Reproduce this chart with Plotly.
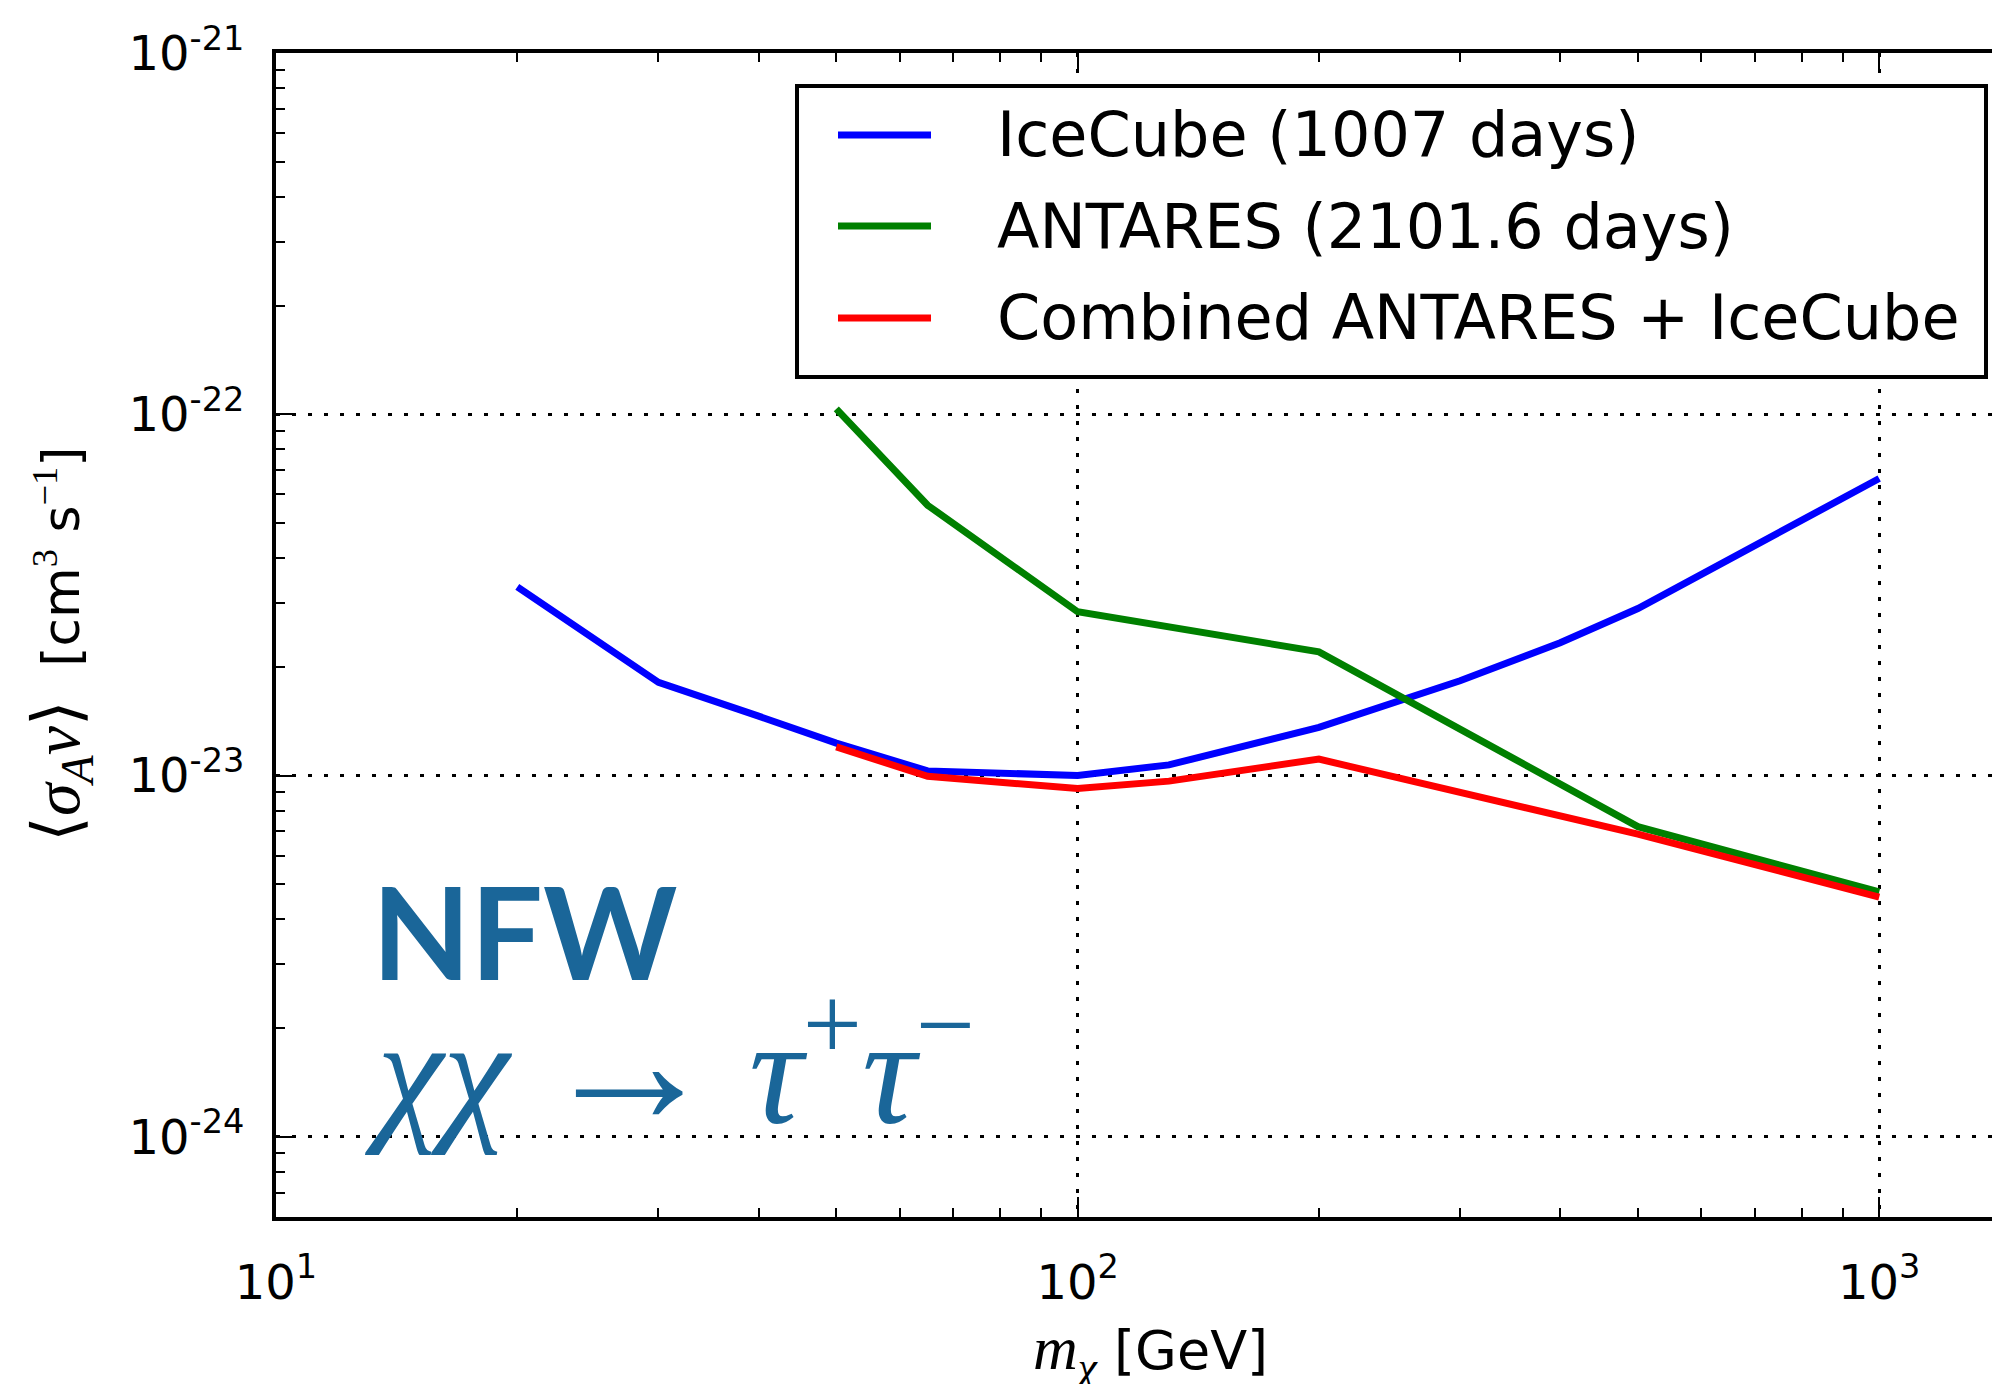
import plotly.graph_objects as go

# ---- data ----
mass_icecube = [20, 30, 40, 50, 65, 100, 130, 200, 300, 400, 500, 1000]
sigma_icecube = [3.33e-23, 1.81e-23, 1.46e-23, 1.23e-23, 1.03e-23, 1.00e-23,
                 1.07e-23, 1.36e-23, 1.83e-23, 2.33e-23, 2.90e-23, 6.64e-23]

mass_antares = [50, 65, 100, 200, 500, 1000]
sigma_antares = [1.035e-22, 5.6e-23, 2.84e-23, 2.20e-23, 7.22e-24, 4.76e-24]

mass_combined = [50, 65, 100, 130, 200, 500, 1000]
sigma_combined = [1.20e-23, 9.95e-24, 9.2e-24, 9.65e-24, 1.11e-23, 6.88e-24, 4.61e-24]

series_names = ["IceCube (1007 days)", "ANTARES (2101.6 days)", "Combined ANTARES + IceCube"]
series_colors = ["#0000ff", "#008000", "#ff0000"]

x_tickvals = [10, 100, 1000]
x_ticktext = ["10<sup>1</sup>", "10<sup>2</sup>", "10<sup>3</sup>"]
y_tickvals = [1e-24, 1e-23, 1e-22, 1e-21]
y_ticktext = ["10<sup>-24</sup>", "10<sup>-23</sup>", "10<sup>-22</sup>", "10<sup>-21</sup>"]

x_minor = [k * 10 ** d for d in (1, 2, 3) for k in range(2, 10)]
y_minor = [k * 10.0 ** d for d in (-25, -24, -23, -22) for k in range(2, 10)]

# ---- layout geometry ----
W, H = 1992, 1384
L, T, B, R = 276, 53, 167, 0
x_decade = 801.6
xr = [1, 1 + (W - L - R) / x_decade]
yr = [-24.222, -21]

MATH = "Liberation Serif"
SANS = "DejaVu Sans"
ANN_COLOR = "#1a6699"

fig = go.Figure()
for xs, ys, nm, col in zip([mass_icecube, mass_antares, mass_combined],
                           [sigma_icecube, sigma_antares, sigma_combined],
                           series_names, series_colors):
    fig.add_trace(go.Scatter(x=xs, y=ys, mode="lines", name=nm,
                             line=dict(color=col, width=7), showlegend=False))

axis_common = dict(
    type="log", ticks="inside", ticklen=20, tickwidth=2, tickcolor="black",
    showline=True, linewidth=4, linecolor="black", zeroline=False,
    showgrid=True, gridcolor="black", gridwidth=2.5, griddash="4px,12px",
    tickfont=dict(family=SANS, size=48, color="black"),
)

fig.update_xaxes(range=xr, tickmode="array", tickvals=x_tickvals, ticktext=x_ticktext,
                 mirror="allticks", ticklabelstandoff=20,
                 minor=dict(tickmode="array", tickvals=x_minor, ticks="inside", ticklen=9,
                            tickwidth=2, tickcolor="black", showgrid=False),
                 **axis_common)
fig.update_yaxes(range=yr, tickmode="array", tickvals=y_tickvals, ticktext=y_ticktext,
                 mirror=False, ticklabelstandoff=18,
                 minor=dict(tickmode="array", tickvals=y_minor, ticks="inside", ticklen=9,
                            tickwidth=2, tickcolor="black", showgrid=False),
                 **axis_common)

pw = W - L - R
ph = H - T - B


def px(xf):
    return (xf - L) / pw


def py(yf):
    return (H - B - yf) / ph


shapes = []
annotations = []

# legend box (manual, to match the reference layout)
shapes.append(dict(type="rect", xref="paper", yref="paper",
                   x0=px(797), x1=px(1986), y0=py(377), y1=py(86),
                   line=dict(color="black", width=4), fillcolor="white", layer="above"))
row_y = [135, 226, 318]
for nm, col, yy in zip(series_names, series_colors, row_y):
    shapes.append(dict(type="line", xref="paper", yref="paper",
                       x0=px(838), x1=px(931), y0=py(yy), y1=py(yy),
                       line=dict(color=col, width=7), layer="above"))
    annotations.append(dict(text=nm, xref="paper", yref="paper", x=px(995), y=py(yy),
                            xanchor="left", yanchor="middle", showarrow=False,
                            font=dict(family=SANS, size=62, color="black")))

# NFW label
annotations.append(dict(text="<b>NFW</b>", xref="paper", yref="paper",
                        x=px(370), y=py(930), xanchor="left", yanchor="middle",
                        showarrow=False, font=dict(family="Lato", size=128, color=ANN_COLOR)))
# channel label
annotations.append(dict(
    text=("<i>χχ</i>\u2009<span style='font-size:180px'>→</span>\u2009"
          "<i>τ</i><sup>+</sup><i>τ</i><sup>−</sup>"),
    xref="paper", yref="paper",
    x=px(362), y=py(1062), xanchor="left", yanchor="middle",
    showarrow=False, font=dict(family=MATH, size=150, color=ANN_COLOR)))

# axis titles
annotations.append(dict(
    text=f"<span style='font-family:{MATH};font-size:62px'><i>m</i><sub><i>χ</i></sub></span> [GeV]",
    xref="paper", yref="paper", x=px(1150), y=py(1352), xanchor="center", yanchor="middle",
    showarrow=False, font=dict(family=SANS, size=54, color="black")))
annotations.append(dict(
    text=(f"<span style='font-family:{MATH};font-size:66px'>⟨<i>σ</i><sub><i>A</i></sub><i>ν</i>⟩</span>"
          f"  [cm<sup><span style='font-family:{MATH}'>3</span></sup>"
          f" s<sup><span style='font-family:{MATH}'>−1</span></sup>]"),
    xref="paper", yref="paper", x=px(61), y=py(644), xanchor="center", yanchor="middle",
    textangle=-90, showarrow=False, font=dict(family=SANS, size=52, color="black")))

fig.update_layout(
    width=W, height=H, margin=dict(l=L, r=R, t=T, b=B, pad=0),
    plot_bgcolor="white", paper_bgcolor="white",
    font=dict(family=SANS, size=48, color="black"),
    showlegend=False, shapes=shapes, annotations=annotations,
)

fig.write_html("out.html")
